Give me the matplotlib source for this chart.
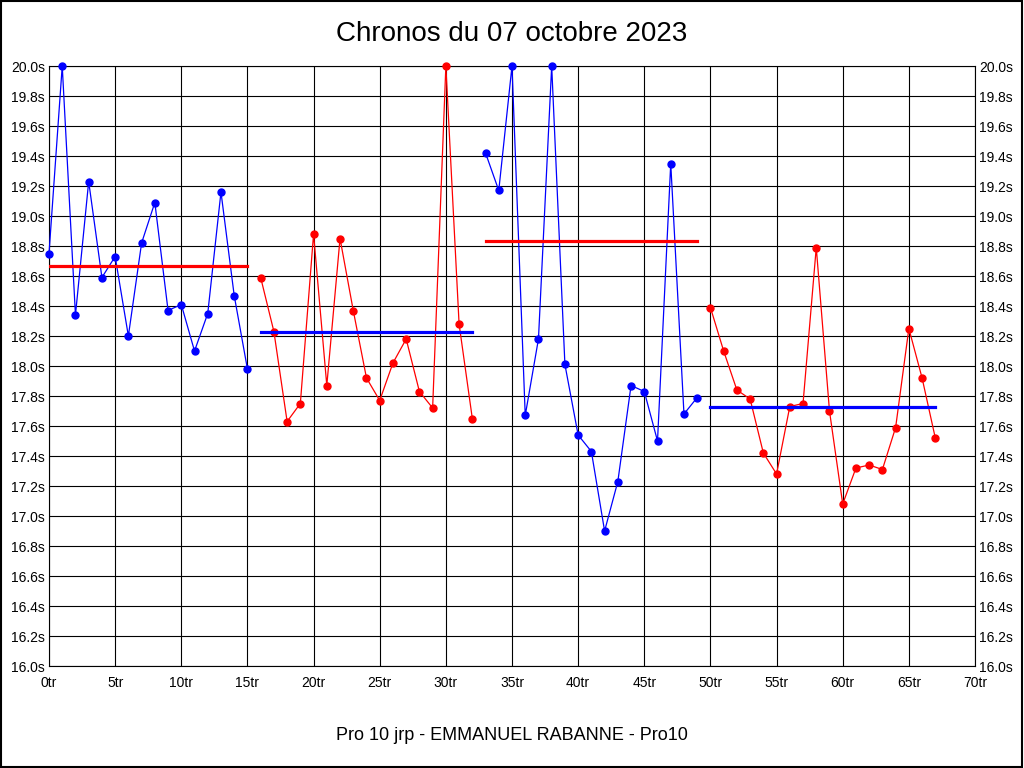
import matplotlib
matplotlib.use("Agg")
import matplotlib.pyplot as plt
from matplotlib.patches import Rectangle

# ----------------------------
# Data: lap times (s), one list per session block
# ----------------------------
laps_a = list(range(0, 16))
times_a = [18.75, 20.0, 18.34, 19.23, 18.59, 18.73, 18.20, 18.82, 19.09, 18.37,
           18.41, 18.10, 18.35, 19.16, 18.47, 17.98]
mean_a = 18.667

laps_b = list(range(16, 33))
times_b = [18.59, 18.23, 17.63, 17.75, 18.88, 17.87, 18.85, 18.37, 17.92, 17.77,
           18.02, 18.18, 17.83, 17.72, 20.0, 18.28, 17.65]
mean_b = 18.227

laps_c = list(range(33, 50))
times_c = [19.42, 19.17, 20.0, 17.67, 18.18, 20.0, 18.01, 17.54, 17.43, 16.90,
           17.23, 17.87, 17.83, 17.50, 19.35, 17.68, 17.79]
mean_c = 18.833

laps_d = list(range(50, 68))
times_d = [18.39, 18.10, 17.84, 17.78, 17.42, 17.28, 17.73, 17.75, 18.79, 17.70,
           17.08, 17.32, 17.34, 17.31, 17.59, 18.25, 17.92, 17.52]
mean_d = 17.724

blocks = [
    (laps_a, times_a, mean_a, "#0000ff", "#ff0000"),
    (laps_b, times_b, mean_b, "#ff0000", "#0000ff"),
    (laps_c, times_c, mean_c, "#0000ff", "#ff0000"),
    (laps_d, times_d, mean_d, "#ff0000", "#0000ff"),
]

x_ticks = list(range(0, 75, 5))
y_ticks = [16.0 + 0.2 * i for i in range(21)]

tick_font = ["Liberation Sans Narrow", "Liberation Sans", "DejaVu Sans"]
text_font = ["Liberation Sans", "DejaVu Sans"]

# ----------------------------
# Figure
# ----------------------------
fig = plt.figure(figsize=(10.24, 7.68), dpi=100)
ax = fig.add_axes([49 / 1024, 102 / 768, 926 / 1024, 600 / 768])

for laps, times, mean, line_col, mean_col in blocks:
    ax.plot(laps, times, color=line_col, lw=0.9, marker="o", ms=5, zorder=3,
            clip_on=False)
    ax.plot([laps[0], laps[-1]], [mean, mean], color=mean_col, lw=2.3, zorder=4)

ax.set_xlim(0, 70)
ax.set_ylim(16.0, 20.0)
ax.set_xticks(x_ticks)
ax.set_xticklabels([f"{t}tr" for t in x_ticks], family=tick_font, fontsize=10)
ax.set_yticks(y_ticks)
ax.set_yticklabels([f"{t:.1f}s" for t in y_ticks], family=tick_font, fontsize=10)
ax.tick_params(axis="y", length=0, pad=3, labelright=True, right=True)
ax.tick_params(axis="x", length=0, pad=7)
ax.grid(True, color="black", lw=0.8)
ax.set_axisbelow(True)
for s in ax.spines.values():
    s.set_color("black")
    s.set_linewidth(0.8)

fig.text(0.5, 1 - 34 / 768, "Chronos du 07 octobre 2023", ha="center", va="center",
         family=text_font, fontsize=20)
fig.text(0.5, 1 - 735 / 768, "Pro 10 jrp - EMMANUEL RABANNE - Pro10", ha="center",
         va="center", family=text_font, fontsize=13)

fig.patches.append(Rectangle((0.0005, 0.0007), 0.998, 0.998, transform=fig.transFigure,
                             fill=False, edgecolor="black", lw=1.5))

fig.savefig("out.png", dpi=100)
